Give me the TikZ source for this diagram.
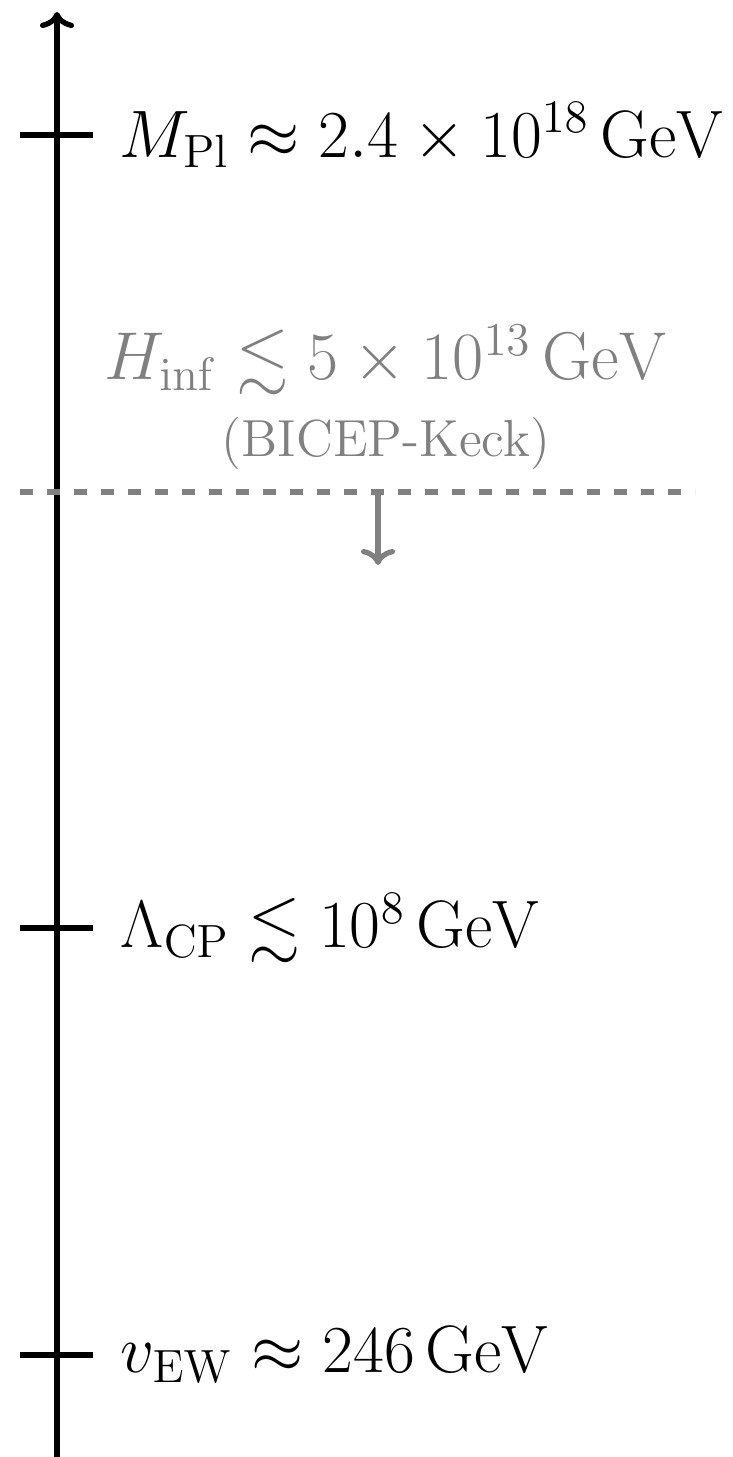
\documentclass[tikz,border=0pt]{standalone}
\usepackage{amsmath,amssymb}
\usetikzlibrary{arrows.meta,positioning}
\definecolor{boundgray}{HTML}{808080}
\tikzset{
  axis/.style={-{To[length=1.6mm,width=3.4mm]}, line width=1.5pt},
  tickmark/.style={line width=1.5pt},
  level/.style={anchor=west, inner sep=0pt, font=\LARGE, scale=1.105, transform shape},
  bound/.style={draw=boundgray, line width=1.5pt, dash pattern=on 1.3mm off 1.4mm},
  boundarrow/.style={-{To[length=1.6mm,width=3.4mm]}, draw=boundgray, line width=1.5pt},
  boundlabel/.style={text=boundgray, inner sep=0pt, align=center, transform shape}
}
\begin{document}
\begin{tikzpicture}
\useasboundingbox (0,0) rectangle (7.33,14.57);
% energy axis
\coordinate (bottom) at (0.57,0);
\coordinate (top) at (0.57,14.45);
\draw[axis] (bottom) -- (top);
% scales
\coordinate (pl) at (0.57,13.22);
\coordinate (cp) at (0.57,5.29);
\coordinate (ew) at (0.57,1.02);
\draw[tickmark] ([xshift=-3.7mm]pl) -- ([xshift=3.6mm]pl);
\draw[tickmark] ([xshift=-3.7mm]cp) -- ([xshift=3.6mm]cp);
\draw[tickmark] ([xshift=-3.7mm]ew) -- ([xshift=3.6mm]ew);
\node[level, right=6.2mm of pl] (mpl) {$M_{\mathrm{Pl}} \approx 2.4 \times 10^{18}\,\mathrm{GeV}$};
\node[level, right=6.3mm of cp] (lcp) {$\Lambda_{\mathrm{CP}} \lesssim 10^{8}\,\mathrm{GeV}$};
\node[level, right=6.3mm of ew] (vew) {$v_{\mathrm{EW}} \approx 246\,\mathrm{GeV}$};
% inflation bound
\coordinate (dl) at (0.20,9.65);
\coordinate (dr) at (6.95,9.65);
\coordinate (dm) at (3.78,9.65);
\coordinate (dd) at (3.78,8.92);
\draw[bound] (dl) -- (dr);
\draw[boundarrow] (dm) -- (dd);
\node[boundlabel, font=\LARGE, scale=1.115, anchor=base] (hinf) at (3.86,10.77) {$H_{\mathrm{inf}} \lesssim 5 \times 10^{13}\,\mathrm{GeV}$};
\node[boundlabel, font=\Large, scale=1.03, anchor=base] (bk) at (3.86,10.0) {(BICEP-Keck)};
\end{tikzpicture}
\end{document}
